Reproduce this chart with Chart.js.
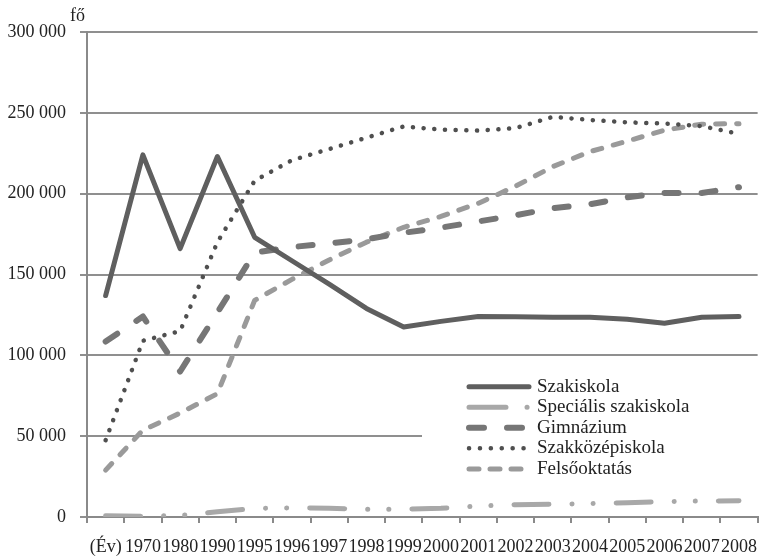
<!DOCTYPE html>
<html>
<head>
<meta charset="utf-8">
<script src="https://cdn.jsdelivr.net/npm/chart.js@4/dist/chart.umd.min.js"></script>
<style>
  html, body { margin: 0; padding: 0; background: #fff; }
  #wrap { width: 770px; height: 559px; position: relative; }
</style>
</head>
<body>
<div id="wrap"><canvas id="c" width="770" height="559"></canvas></div>
<script>
const categories = ["(Év)","1970","1980","1990","1995","1996","1997","1998","1999","2000","2001","2002","2003","2004","2005","2006","2007","2008"];
const seriesNames = ["Szakiskola","Speciális szakiskola","Gimnázium","Szakközépiskola","Felsőoktatás"];
const szakiskola = [137000,224000,166000,223000,173000,158500,144000,129000,117500,121000,124000,123800,123600,123600,122300,119800,123500,124000];
const specialis  = [800,400,1000,3200,5300,5600,5400,4800,4800,5400,6800,7600,7900,8300,8800,9500,9900,10000];
const gimnazium  = [108500,124000,90000,126500,163500,167000,169200,171800,175800,179000,182800,186600,191000,193400,197800,200400,200400,204000];
const szakkozep  = [47500,109000,115000,170000,208000,220700,227600,234600,241600,239600,239000,240500,247500,245600,244100,243400,241800,237000];
const felso      = [29000,53700,64300,76300,134000,147000,159000,170000,179200,185900,194000,204600,216700,226000,232500,239300,243000,243300];
const yMin = 0, yMax = 300000, yStep = 50000;
const unitLabel = "fő";

const FONT = "'Liberation Serif', serif";
const styles = [
  { color: '#5f5f5f', width: 5,   dash: [] },
  { color: '#a8a8a8', width: 5,   dash: [35, 23, 0.1, 21, 0.1, 23] },
  { color: '#767676', width: 6,   dash: [14, 23] },
  { color: '#4f4f4f', width: 4.5, dash: [0.1, 10.6] },
  { color: '#9a9a9a', width: 5,   dash: [9, 12] }
];
const legendSamples = [
  { dash: [], offset: 0 },
  { dash: [37, 21, 0.1, 100], offset: 0 },
  { dash: [15, 23], offset: 0 },
  { dash: [0.1, 10.8], offset: 0 },
  { dash: [10, 11], offset: 0 }
];
const seriesData = [szakiskola, specialis, gimnazium, szakkozep, felso];

const datasets = seriesNames.map((name, i) => ({
  label: name,
  data: seriesData[i],
  borderColor: styles[i].color,
  backgroundColor: styles[i].color,
  borderWidth: styles[i].width,
  borderDash: styles[i].dash,
  borderCapStyle: 'round',
  borderJoinStyle: 'round',
  pointRadius: 0,
  pointHoverRadius: 0,
  tension: 0,
  fill: false,
  order: i
}));

const overlay = {
  id: 'overlay',
  afterDraw(chart) {
    const ctx = chart.ctx;
    ctx.save();
    ctx.fillStyle = '#222';
    ctx.font = "18px " + FONT;
    ctx.textAlign = 'left';
    ctx.textBaseline = 'alphabetic';
    ctx.fillText(unitLabel, 70, 21);
    ctx.fillStyle = '#ffffff';
    ctx.fillRect(422, 371, 348, 112);
    const rowY = [386.7, 407.3, 427.7, 448.3, 469];
    for (let i = 0; i < seriesNames.length; i++) {
      const y = rowY[i];
      ctx.beginPath();
      ctx.strokeStyle = styles[i].color;
      ctx.lineWidth = styles[i].width;
      ctx.lineCap = 'round';
      ctx.setLineDash(legendSamples[i].dash);
      ctx.lineDashOffset = legendSamples[i].offset;
      ctx.moveTo(469, y);
      ctx.lineTo(529, y);
      ctx.stroke();
      ctx.setLineDash([]);
      ctx.fillStyle = '#222';
      ctx.font = "19px " + FONT;
      ctx.textBaseline = 'middle';
      ctx.fillText(seriesNames[i], 537, y);
    }
    ctx.restore();
  }
};

new Chart(document.getElementById('c'), {
  type: 'line',
  data: { labels: categories, datasets },
  options: {
    responsive: false,
    animation: false,
    events: [],
    layout: { padding: { top: 32, right: 0, left: 0, bottom: 0 } },
    plugins: { legend: { display: false }, tooltip: { enabled: false }, title: { display: false } },
    scales: {
      x: {
        type: 'category',
        offset: true,
        afterFit(scale) { scale.height = 42; },
        grid: { offset: true, drawOnChartArea: false, drawTicks: true, tickLength: 6, color: '#8a8a8a', lineWidth: 2 },
        border: { display: true, color: '#8a8a8a', width: 2 },
        ticks: { autoSkip: false, maxRotation: 0, minRotation: 0, padding: 13, color: '#222', font: { family: FONT, size: 18 } }
      },
      y: {
        min: yMin, max: yMax,
        afterFit(scale) { scale.width = 87; },
        grid: { drawOnChartArea: true, drawTicks: true, tickLength: 7, color: '#8f8f8f', lineWidth: 2 },
        border: { display: true, color: '#8a8a8a', width: 2 },
        ticks: {
          stepSize: yStep, padding: 14, color: '#222',
          font: { family: FONT, size: 18 },
          callback: v => v === 0 ? '0' : String(v).replace(/\B(?=(\d{3})+(?!\d))/g, ' ')
        }
      }
    }
  },
  plugins: [overlay]
});
</script>
</body>
</html>
